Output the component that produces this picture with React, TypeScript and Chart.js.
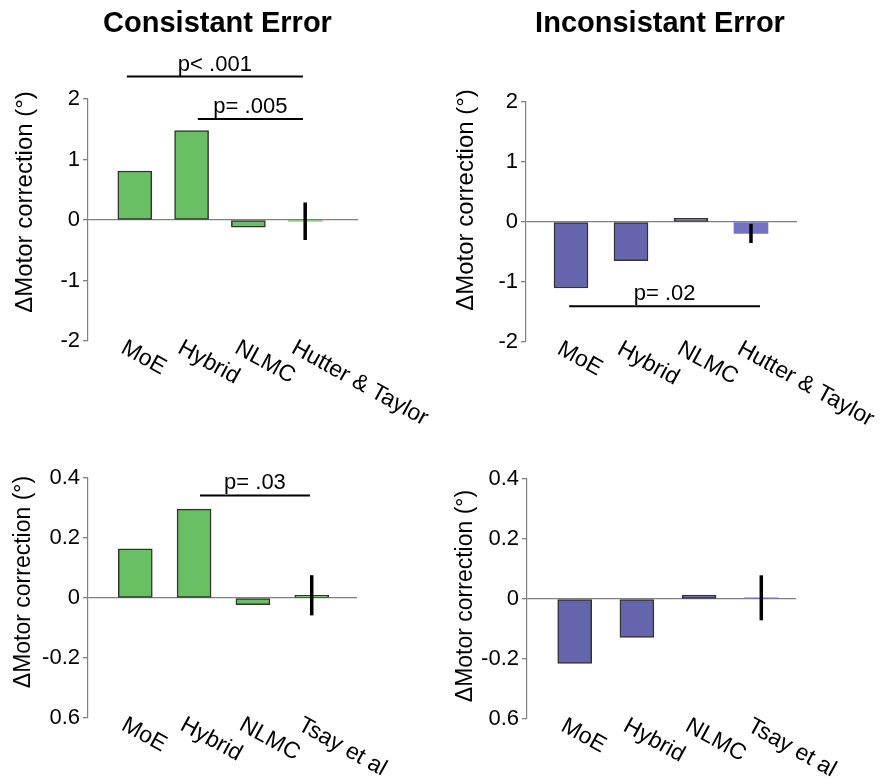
import React, { useEffect, useRef } from 'react';
import { Chart, registerables } from 'chart.js';

Chart.register(...registerables);

const FONT = '"Liberation Sans", Arial, Helvetica, sans-serif';

// ---- data ----
const CATEGORIES_TOP = ['MoE', 'Hybrid', 'NLMC', 'Hutter & Taylor'];
const CATEGORIES_BOTTOM = ['MoE', 'Hybrid', 'NLMC', 'Tsay et al'];

const CONSISTENT_TOP = [0.81, 1.48, -0.12, -0.02];
const INCONSISTENT_TOP = [-1.1, -0.645, 0.06, -0.19];
const CONSISTENT_BOTTOM = [0.164, 0.296, -0.022, 0.009];
const INCONSISTENT_BOTTOM = [-0.215, -0.128, 0.013, 0.004];

const ERR_CONSISTENT_TOP = [0, 0, 0, 0.31];
const ERR_INCONSISTENT_TOP = [0, 0, 0, 0.16];
const ERR_CONSISTENT_BOTTOM = [0, 0, 0, 0.067];
const ERR_INCONSISTENT_BOTTOM = [0, 0, 0, 0.075];

const Y_TICKS_TOP = [-2, -1, 0, 1, 2];
const Y_TICK_LABELS_TOP = ['-2', '-1', '0', '1', '2'];
const Y_TICKS_BOTTOM = [-0.4, -0.2, 0, 0.2, 0.4];
const Y_TICK_LABELS_BOTTOM = ['0.6', '-0.2', '0', '0.2', '0.4'];

type Sig = { from: number; to: number; y: number; label: string };
const SIG_CONSISTENT_TOP: Sig[] = [
  { from: 0.86, to: 3.96, y: 2.37, label: 'p< .001' },
  { from: 2.11, to: 3.96, y: 1.67, label: 'p= .005' },
];
const SIG_INCONSISTENT_TOP: Sig[] = [{ from: 0.97, to: 4.15, y: -1.405, label: 'p= .02' }];
const SIG_CONSISTENT_BOTTOM: Sig[] = [{ from: 2.1, to: 3.97, y: 0.342, label: 'p= .03' }];
const SIG_INCONSISTENT_BOTTOM: Sig[] = [];

const Y_TITLE = 'ΔMotor correction (°)';

type PanelProps = {
  left: number;
  top: number;
  width: number;
  height: number;
  padding: { left: number; right: number; top: number; bottom: number };
  categories: string[];
  values: number[];
  errors: number[];
  colors: string[];
  borders: number[];
  yMin: number;
  yMax: number;
  yTicks: number[];
  yTickLabels: string[];
  xMin: number;
  xMax: number;
  sigs: Sig[];
  title?: string;
  titleX?: number;
  yTitleDx: number;
  yTitleDy: number;
  yTitleSize: number;
};

function Panel(p: PanelProps) {
  const ref = useRef<HTMLCanvasElement | null>(null);
  useEffect(() => {
    if (!ref.current) return;
    const overlay = {
      id: 'overlay',
      afterDatasetsDraw(chart: any) {
        const ctx = chart.ctx as CanvasRenderingContext2D;
        const xs = chart.scales.x;
        const ys = chart.scales.y;
        const area = chart.chartArea;
        ctx.save();
        // error bars
        ctx.strokeStyle = '#000';
        ctx.lineWidth = 3.5;
        ctx.lineCap = 'butt';
        p.values.forEach((v, i) => {
          const e = p.errors[i];
          if (!e) return;
          const px = xs.getPixelForValue(i + 1);
          ctx.beginPath();
          ctx.moveTo(px, ys.getPixelForValue(v + e));
          ctx.lineTo(px, ys.getPixelForValue(v - e));
          ctx.stroke();
        });
        // significance lines
        ctx.lineWidth = 2;
        ctx.fillStyle = '#000';
        ctx.font = `22px ${FONT}`;
        ctx.textAlign = 'center';
        ctx.textBaseline = 'alphabetic';
        p.sigs.forEach((s) => {
          const x1 = xs.getPixelForValue(s.from);
          const x2 = xs.getPixelForValue(s.to);
          const y = ys.getPixelForValue(s.y);
          ctx.beginPath();
          ctx.moveTo(x1, y);
          ctx.lineTo(x2, y);
          ctx.stroke();
          ctx.fillText(s.label, (x1 + x2) / 2, y - 6);
        });
        // category labels (rotated clockwise)
        ctx.textAlign = 'left';
        ctx.font = `23px ${FONT}`;
        p.categories.forEach((c, i) => {
          const px = xs.getPixelForValue(i + 1);
          ctx.save();
          ctx.translate(px - 15, area.bottom + 11);
          ctx.rotate((29 * Math.PI) / 180);
          ctx.fillText(c, 0, 0);
          ctx.restore();
        });
        // y-axis title
        ctx.save();
        ctx.translate(area.left + p.yTitleDx, (area.top + area.bottom) / 2 + p.yTitleDy);
        ctx.rotate(-Math.PI / 2);
        ctx.textAlign = 'center';
        ctx.textBaseline = 'middle';
        ctx.font = `${p.yTitleSize}px ${FONT}`;
        ctx.fillText(Y_TITLE, 0, 0);
        ctx.restore();
        // panel title
        if (p.title) {
          ctx.font = `bold 29px ${FONT}`;
          ctx.textAlign = 'center';
          ctx.textBaseline = 'alphabetic';
          ctx.fillText(p.title, p.titleX || 0, 31.5);
        }
        ctx.restore();
      },
    };

    const chart = new Chart(ref.current, {
      type: 'bar',
      data: {
        datasets: [
          {
            data: p.values.map((v, i) => ({ x: i + 1, y: v })) as any,
            backgroundColor: p.colors,
            borderColor: '#333333',
            borderWidth: p.borders,
            borderSkipped: false,
            barThickness: 34,
          },
        ],
      },
      options: {
        responsive: false,
        animation: false,
        layout: { padding: p.padding },
        plugins: { legend: { display: false }, tooltip: { enabled: false } },
        scales: {
          x: {
            type: 'linear',
            min: p.xMin,
            max: p.xMax,
            offset: false,
            display: false,
            afterBuildTicks: (s: any) => {
              s.ticks = p.categories.map((_, i) => ({ value: i + 1 }));
            },
          },
          y: {
            type: 'linear',
            min: p.yMin,
            max: p.yMax,
            afterBuildTicks: (s: any) => {
              s.ticks = p.yTicks.map((v) => ({ value: v }));
            },
            afterFit: (s: any) => {
              s.width = 60;
            },
            ticks: {
              font: { size: 22, family: FONT },
              color: '#000',
              padding: 3,
              callback: (value: any) => {
                const idx = p.yTicks.findIndex((t) => Math.abs(t - Number(value)) < 1e-9);
                return idx >= 0 ? p.yTickLabels[idx] : '';
              },
            },
            grid: {
              color: (c: any) =>
                c.tick && Math.abs(c.tick.value) < 1e-9 ? '#808080' : 'rgba(0,0,0,0)',
              tickColor: '#808080',
              tickLength: 5,
              lineWidth: 1.3,
            },
            border: { display: true, color: '#808080', width: 1.2 },
          },
        },
      } as any,
      plugins: [overlay],
    });
    return () => chart.destroy();
  }, []);

  return (
    <canvas
      ref={ref}
      width={p.width}
      height={p.height}
      style={{ position: 'absolute', left: p.left, top: p.top, width: p.width, height: p.height }}
    />
  );
}

const GREEN = '#69BF63';
const PURPLE = '#6565AD';
const PURPLE_LIGHT = '#7373C2';

export default function App() {
  useEffect(() => {
    document.body.style.margin = '0';
  }, []);
  return (
    <div style={{ position: 'relative', width: 884, height: 780, background: '#fff', overflow: 'hidden' }}>
      <Panel
        left={0}
        top={0}
        width={442}
        height={440}
        padding={{ left: 28, right: 84, top: 99, bottom: 99 }}
        categories={CATEGORIES_TOP}
        values={CONSISTENT_TOP}
        errors={ERR_CONSISTENT_TOP}
        colors={[GREEN, GREEN, GREEN, GREEN]}
        borders={[1.5, 1.5, 1.5, 0]}
        yMin={-2}
        yMax={2}
        yTicks={Y_TICKS_TOP}
        yTickLabels={Y_TICK_LABELS_TOP}
        xMin={0.176}
        xMax={4.93}
        sigs={SIG_CONSISTENT_TOP}
        title="Consistant Error"
        titleX={217.5}
        yTitleDx={-63}
        yTitleDy={-18}
        yTitleSize={24}
      />
      <Panel
        left={442}
        top={0}
        width={442}
        height={440}
        padding={{ left: 24, right: 87, top: 102, bottom: 98 }}
        categories={CATEGORIES_TOP}
        values={INCONSISTENT_TOP}
        errors={ERR_INCONSISTENT_TOP}
        colors={[PURPLE, PURPLE, PURPLE, PURPLE_LIGHT]}
        borders={[1.5, 1.5, 1.5, 0]}
        yMin={-2}
        yMax={2}
        yTicks={Y_TICKS_TOP}
        yTickLabels={Y_TICK_LABELS_TOP}
        xMin={0.25}
        xMax={4.767}
        sigs={SIG_INCONSISTENT_TOP}
        title="Inconsistant Error"
        titleX={218}
        yTitleDx={-60}
        yTitleDy={-22}
        yTitleSize={24}
      />
      <Panel
        left={0}
        top={440}
        width={442}
        height={340}
        padding={{ left: 28, right: 85, top: 38, bottom: 62 }}
        categories={CATEGORIES_BOTTOM}
        values={CONSISTENT_BOTTOM}
        errors={ERR_CONSISTENT_BOTTOM}
        colors={[GREEN, GREEN, GREEN, GREEN]}
        borders={[1.5, 1.5, 1.5, 1.5]}
        yMin={-0.4}
        yMax={0.4}
        yTicks={Y_TICKS_BOTTOM}
        yTickLabels={Y_TICK_LABELS_BOTTOM}
        xMin={0.196}
        xMax={4.77}
        sigs={SIG_CONSISTENT_BOTTOM}
        yTitleDx={-64}
        yTitleDy={-16}
        yTitleSize={23}
      />
      <Panel
        left={442}
        top={440}
        width={442}
        height={340}
        padding={{ left: 25, right: 88, top: 39, bottom: 61 }}
        categories={CATEGORIES_BOTTOM}
        values={INCONSISTENT_BOTTOM}
        errors={ERR_INCONSISTENT_BOTTOM}
        colors={[PURPLE, PURPLE, PURPLE, PURPLE_LIGHT]}
        borders={[1.5, 1.5, 1.5, 0]}
        yMin={-0.4}
        yMax={0.4}
        yTicks={Y_TICKS_BOTTOM}
        yTickLabels={Y_TICK_LABELS_BOTTOM}
        xMin={0.233}
        xMax={4.558}
        sigs={SIG_INCONSISTENT_BOTTOM}
        yTitleDx={-61}
        yTitleDy={-3}
        yTitleSize={23}
      />
    </div>
  );
}
